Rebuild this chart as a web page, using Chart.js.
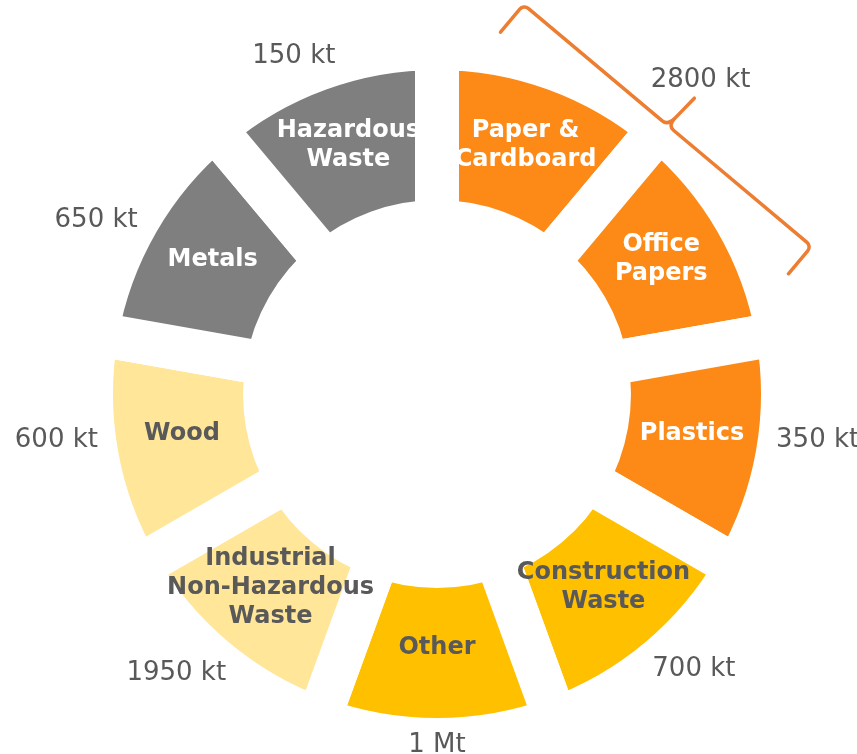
<!DOCTYPE html>
<html>
<head>
<meta charset="utf-8">
<script src="https://cdn.jsdelivr.net/npm/chart.js@4.4.1/dist/chart.umd.min.js"></script>
<style>
  html, body { margin: 0; padding: 0; background: #fff; overflow: hidden; }
  canvas { display: block; }
</style>
</head>
<body>
<canvas id="chart" width="857" height="754"></canvas>
<script>
// Segment names (one entry per text line), clockwise from the top
const categories = [
    ['Paper &', 'Cardboard'],
    ['Office', 'Papers'],
    ['Plastics'],
    ['Construction', 'Waste'],
    ['Other'],
    ['Industrial', 'Non-Hazardous', 'Waste'],
    ['Wood'],
    ['Metals'],
    ['Hazardous', 'Waste']
];

// All segments are drawn the same size in the picture
const segmentSizes = [1, 1, 1, 1, 1, 1, 1, 1, 1];

// Amount written outside each segment (the two paper ones share the bracket)
const amountLabels = [null, null, '350 kt', '700 kt', '1 Mt', '1950 kt', '600 kt', '650 kt', '150 kt'];
const bracketLabel = '2800 kt';
const bracketSegments = [0, 1];

const segmentColors = ['#FD8A16', '#FD8A16', '#FD8A16', '#FFC000', '#FFC000', '#FFE699', '#FFE699', '#7F7F7F', '#7F7F7F'];
const nameColors = ['#FFFFFF', '#FFFFFF', '#FFFFFF', '#595959', '#595959', '#595959', '#595959', '#FFFFFF', '#FFFFFF'];

const GAP = 44; // white space between segments

// Draws the names, the amounts and the bracket around the ring
const ringLabels = {
    id: 'ringLabels',
    afterDatasetsDraw(chart) {
        const ctx = chart.ctx;
        const arcs = chart.getDatasetMeta(0).data;
        const cx = arcs[0].x, cy = arcs[0].y;
        const outerR = arcs[0].outerRadius - GAP / 2;
        const innerR = arcs[0].innerRadius + GAP / 2;

        ctx.save();
        ctx.textAlign = 'center';
        ctx.textBaseline = 'middle';

        // names inside the segments
        ctx.font = 'bold 24px "DejaVu Sans"';
        arcs.forEach((arc, i) => {
            const mid = (arc.startAngle + arc.endAngle) / 2;
            const r = (outerR + innerR) / 2;
            const x = cx + Math.cos(mid) * r;
            const y = cy + Math.sin(mid) * r - 5;
            const lines = categories[i];
            ctx.fillStyle = nameColors[i];
            lines.forEach((line, k) => {
                ctx.fillText(line, x, y + (k - (lines.length - 1) / 2) * 29);
            });
        });

        // amounts outside the ring, nudged a little toward the horizontal
        ctx.font = '26px "DejaVu Sans"';
        ctx.fillStyle = '#595959';
        const pull = 3 * Math.PI / 180;
        arcs.forEach((arc, i) => {
            if (!amountLabels[i]) return;
            let mid = (arc.startAngle + arc.endAngle) / 2;
            const s = Math.sin(mid);
            if (Math.abs(Math.cos(mid)) > 0.01) mid -= pull * Math.sign(s) * Math.sign(Math.cos(mid));
            const ux = Math.cos(mid), uy = Math.sin(mid);
            const w = ctx.measureText(amountLabels[i]).width;
            const r = outerR + 17 + Math.abs(ux) * w / 2 + Math.abs(uy) * 10;
            ctx.fillText(amountLabels[i], cx + ux * r, cy + uy * r);
        });

        // bracket over the paper segments
        const first = arcs[bracketSegments[0]];
        const last = arcs[bracketSegments[bracketSegments.length - 1]];
        const mid = (first.startAngle + last.endAngle) / 2;
        const half = (last.endAngle - first.startAngle) / 2;
        const u = [Math.cos(mid), Math.sin(mid)];
        const t = [-Math.sin(mid), Math.cos(mid)];
        const d = outerR + 30;
        const L = outerR * Math.sin(half - Math.asin(GAP / 2 / outerR)) - 3;
        const sh = 4;
        const pt = (along, across) => [cx + u[0] * along + t[0] * (across + sh), cy + u[1] * along + t[1] * (across + sh)];

        ctx.strokeStyle = '#ED7D31';
        ctx.lineWidth = 3.5;
        ctx.lineCap = 'round';
        ctx.lineJoin = 'round';
        ctx.beginPath();
        ctx.moveTo(...pt(d - 36, -L));
        ctx.arcTo(...pt(d, -L), ...pt(d, 0), 6);
        ctx.lineTo(...pt(d, -7));
        ctx.quadraticCurveTo(...pt(d, 0), ...pt(d + 10, 1));
        ctx.lineTo(...pt(d + 38, 3));
        ctx.moveTo(...pt(d + 8, 1));
        ctx.quadraticCurveTo(...pt(d, 1), ...pt(d, 8));
        ctx.arcTo(...pt(d, L), ...pt(d - 36, L), 6);
        ctx.lineTo(...pt(d - 36, L));
        ctx.stroke();

        ctx.fillStyle = '#595959';
        ctx.fillText(bracketLabel, ...pt(d + 56, -4));
        ctx.restore();
    }
};

const ctx = document.getElementById('chart').getContext('2d');
const chart = new Chart(ctx, {
    type: 'doughnut',
    data: {
        labels: categories.map(c => c.join(' ')),
        datasets: [{
            data: segmentSizes,
            backgroundColor: segmentColors,
            borderColor: '#FFFFFF',
            borderWidth: GAP,
            hoverBorderWidth: GAP
        }]
    },
    options: {
        responsive: false,
        animation: false,
        events: [],
        devicePixelRatio: 1,
        radius: 346,
        cutout: '49.7%',
        layout: {
            padding: { left: 17, top: 34 }
        },
        plugins: {
            legend: { display: false },
            tooltip: { enabled: false }
        }
    },
    plugins: [ringLabels]
});
</script>
</body>
</html>
